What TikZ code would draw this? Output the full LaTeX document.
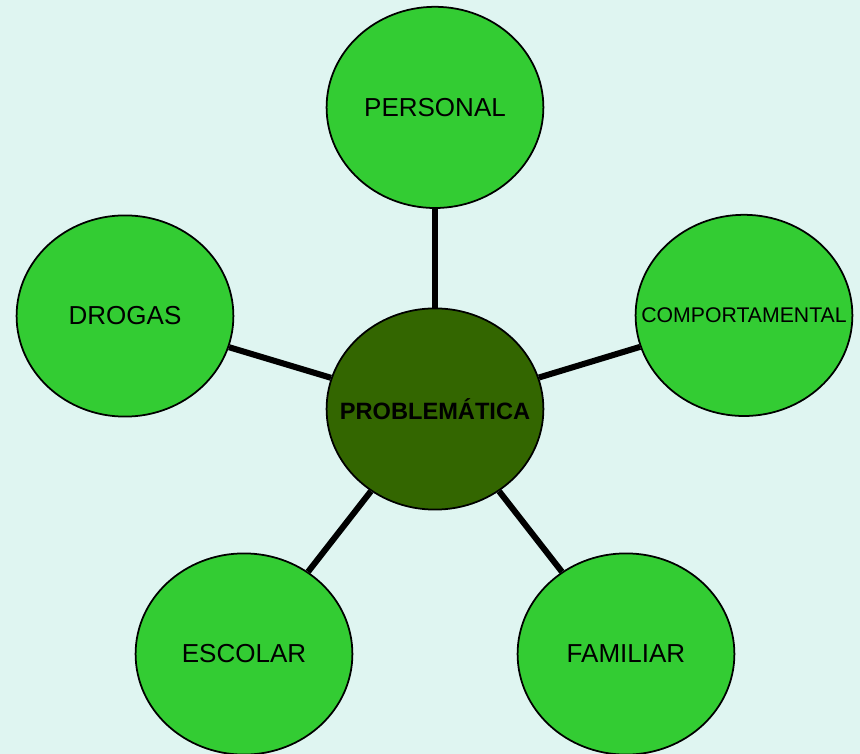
\documentclass[tikz,border=0pt]{standalone}
\usepackage{fontspec}
\setmainfont{Liberation Sans}
\usetikzlibrary{shapes.geometric}
\definecolor{bgmint}{RGB}{223,245,241}
\definecolor{leafgreen}{RGB}{51,204,51}
\definecolor{darkgreen}{RGB}{51,102,0}
\newcommand{\fitlabel}[1]{\makebox[0pt]{#1}}

\begin{document}
\begin{tikzpicture}[
  topic/.style={ellipse, draw=black, line width=1.25pt, fill=leafgreen, minimum width=5.42cm, minimum height=5.03cm, inner sep=0pt},
  link/.style={line width=4.3pt, black}
]
% Background
\fill[bgmint] (-10.875,10.225) rectangle (10.625,-8.625);
\useasboundingbox (-10.875,10.225) rectangle (10.625,-8.625);

% Central node
\node[topic, fill=darkgreen] (core) at (0,0) {\fitlabel{\fontsize{16.8}{20}\selectfont\textbf{PROBLEMÁTICA}}};

% Surrounding topics
\node[topic] (personal) at (0,7.54) {\fitlabel{\fontsize{18.5}{22}\selectfont PERSONAL}};
\node[topic] (comport) at (7.725,2.34) {\fitlabel{\fontsize{15.1}{18}\selectfont COMPORTAMENTAL}};
\node[topic] (drogas) at (-7.75,2.325) {\fitlabel{\fontsize{18.5}{22}\selectfont DROGAS}};
\node[topic] (escolar) at (-4.775,-6.125) {\fitlabel{\fontsize{18.5}{22}\selectfont ESCOLAR}};
\node[topic] (familiar) at (4.775,-6.125) {\fitlabel{\fontsize{18.5}{22}\selectfont FAMILIAR}};

% Links
\draw[link] (core) -- (personal);
\draw[link] (core) -- (comport);
\draw[link] (core) -- (drogas);
\draw[link] (core) -- (escolar);
\draw[link] (core) -- (familiar);
\end{tikzpicture}
\end{document}
